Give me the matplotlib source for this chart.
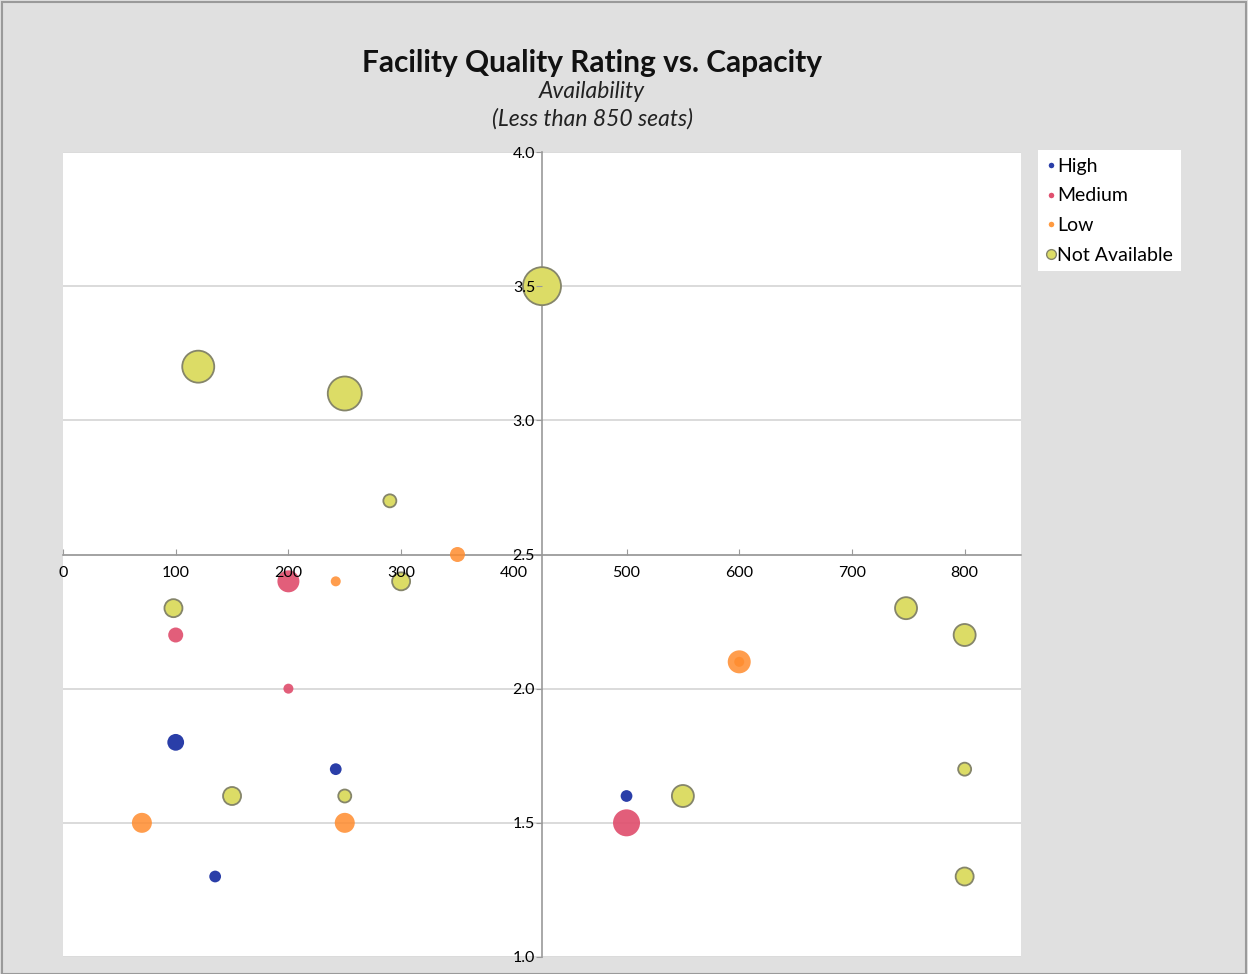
import matplotlib.pyplot as plt
from matplotlib.lines import Line2D
from matplotlib.patches import Rectangle

# capacity (seats), quality rating, bubble value per availability group
high_x = [100, 135, 242, 500]
high_y = [1.8, 1.3, 1.7, 1.6]
high_b = [19, 14, 14, 14]

medium_x = [200, 100, 200, 500]
medium_y = [2.4, 2.2, 2.0, 1.5]
medium_b = [22, 15, 10, 27]

low_x = [350, 242, 600, 600, 70, 250]
low_y = [2.5, 2.4, 2.1, 2.1, 1.5, 1.5]
low_b = [15, 10, 23, 10, 20, 20]

na_x = [425, 120, 250, 290, 300, 98, 150, 250, 550, 748, 800, 800, 800]
na_y = [3.5, 3.2, 3.1, 2.7, 2.4, 2.3, 1.6, 1.6, 1.6, 2.3, 2.2, 1.7, 1.3]
na_b = [38, 32, 34, 13, 18, 18, 18, 13, 22, 22, 22, 13, 18]

x_ticks = [0, 100, 200, 300, 400, 500, 600, 700, 800]
y_ticks = [1.0, 1.5, 2.0, 2.5, 3.0, 3.5, 4.0]

FONT = ['Lato', 'DejaVu Sans']
plt.rcParams['font.family'] = FONT


def area(vals):
    # bubble diameter in px -> marker area in pt^2
    return [(v * 0.72) ** 2 for v in vals]


fig = plt.figure(figsize=(12.48, 9.74), dpi=100, facecolor='#e0e0e0')
fig.patches.append(Rectangle((0.0015, 0), 0.997, 0.998, transform=fig.transFigure,
                             fill=False, edgecolor='#9a9a9a', linewidth=1.5))

ax = fig.add_axes([63 / 1248, 17 / 974, 958 / 1248, 805 / 974])
ax.set_facecolor('white')
ax.set_xlim(0, 850)
ax.set_ylim(1.0, 4.0)

# axes cross at (425, 2.5); lines under the bubbles, labels over them
ax.spines['left'].set_position(('data', 425))
ax.spines['bottom'].set_position(('data', 2.5))
ax.spines['right'].set_visible(False)
ax.spines['top'].set_visible(False)
for s in ('left', 'bottom'):
    ax.spines[s].set_color('#9a9a9a')
    ax.spines[s].set_linewidth(1.2)
    ax.spines[s].set_zorder(1)

ax.set_xticks(x_ticks)
ax.set_yticks(y_ticks)
ax.set_yticklabels([f'{v:.1f}' for v in y_ticks])
ax.tick_params(axis='x', direction='in', length=4, color='#9a9a9a', labelsize=11.5, pad=8)
ax.tick_params(axis='y', direction='out', length=4, color='#9a9a9a', labelsize=11.5, pad=1)
ax.xaxis.set_zorder(6)
ax.yaxis.set_zorder(6)
for v in y_ticks:
    ax.axhline(v, color='#d4d4d4', linewidth=1.2, zorder=0.5)

ax.scatter(na_x, na_y, s=area(na_b), color='#dcdc66', edgecolor='#85856a', linewidth=1.3, zorder=3)
ax.scatter(low_x, low_y, s=area(low_b), color='#ff8c2e', alpha=0.85, edgecolor='none', zorder=3)
ax.scatter(medium_x, medium_y, s=area(medium_b), color='#e0506f', alpha=0.92, edgecolor='none', zorder=3)
ax.scatter(high_x, high_y, s=area(high_b), color='#2a3ea8', edgecolor='white', linewidth=1.6, zorder=4)

fig.text(592 / 1248, 1 - 63 / 974, 'Facility Quality Rating vs. Capacity', ha='center', va='center',
         fontsize=21.5, fontweight='bold', color='#111111')
fig.text(592 / 1248, 1 - 92 / 974, 'Availability', ha='center', va='center',
         fontsize=16.5, style='italic', color='#222222')
fig.text(592 / 1248, 1 - 119 / 974, '(Less than 850 seats)', ha='center', va='center',
         fontsize=16.5, style='italic', color='#222222')

handles = [
    Line2D([], [], marker='o', linestyle='', markersize=5, color='#2a3ea8', markeredgecolor='white'),
    Line2D([], [], marker='o', linestyle='', markersize=5, color='#e0506f', markeredgecolor='white'),
    Line2D([], [], marker='o', linestyle='', markersize=5, color='#ff9a40', markeredgecolor='white'),
    Line2D([], [], marker='o', linestyle='', markersize=7, color='#dcdc66', markeredgecolor='#85856a'),
]
leg = fig.legend(handles, ['High', 'Medium', 'Low', 'Not Available'], loc='upper left',
                 bbox_to_anchor=(1038 / 1248, 1 - 150 / 974), frameon=True, fancybox=False,
                 fontsize=14, handlelength=0.5, handletextpad=0.1, labelspacing=0.65,
                 borderpad=0.4, borderaxespad=0)
leg.get_frame().set_facecolor('white')
leg.get_frame().set_alpha(1)
leg.get_frame().set_linewidth(0)

fig.savefig('out.png', dpi=100, facecolor=fig.get_facecolor())
